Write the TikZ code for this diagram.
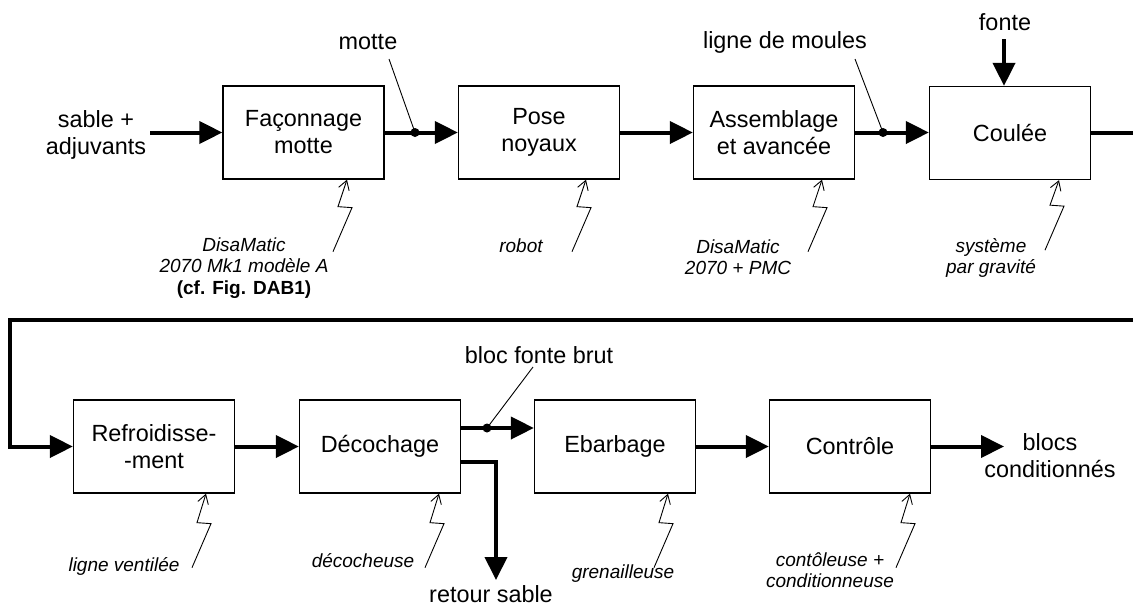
\documentclass[tikz,border=0pt]{standalone}
\usepackage{fontspec}
\setmainfont{Liberation Sans}
\usetikzlibrary{arrows.meta,calc}
\begin{document}
\begin{tikzpicture}[x=1pt,y=-1pt,
  box/.style={draw,line width=1.3pt,minimum width=161pt,minimum height=93pt,inner sep=0pt,align=center,font=\fontsize{23.4}{27}\selectfont},
  lbl/.style={align=center,font=\fontsize{23.4}{27}\selectfont,inner sep=0pt},
  note/.style={align=center,font=\fontsize{19}{21.5}\selectfont\itshape,inner sep=0pt},
  flow/.style={line width=4pt,-{Triangle[length=23pt,width=22pt]}},
  plain/.style={line width=4pt},
  leader/.style={line width=0.9pt},
  bolt/.style={line width=0.9pt,-{Straight Barb[length=9pt,width=11pt]}},
  dotc/.style={fill=black}]
\useasboundingbox (0,0) rectangle (1133,608);
% boxes
\node[box] (f1) at (303.5,132.5) {Façonnage\\motte};
\node[box] (f2) at (539,132.5) {Pose\\noyaux};
\node[box] (f3) at (774,132.5) {Assemblage\\et avancée};
\node[box] (f4) at (1010,133) {Coulée};
\node[box] (f5) at (154,446.5) {Refroidisse-\\-ment};
\node[box] (f6) at (380,446.5) {Décochage};
\node[box] (f7) at (615,446.5) {Ebarbage};
\node[box] (f8) at (850,446.5) {Contrôle};
% labels
\node[lbl] (in) at (96,135) {sable +\\adjuvants};
\node[lbl] (lmotte) at (368,42) {motte};
\node[lbl] (lmoules) at (785,42) {ligne de moules};
\node[lbl] (lfonte) at (1005,22) {fonte};
\node[lbl] (lbloc) at (539,355) {bloc fonte brut};
\node[lbl] (lout) at (1050,456) {blocs\\conditionnés};
\node[lbl] (lret) at (491,594) {retour sable};
% notes
\node[note] (n1) at (244,268) {DisaMatic\\2070 Mk1 modèle A\\{\upshape\bfseries (cf. Fig. DAB1)}};
\node[note] (n2) at (521,246) {robot};
\node[note] (n3) at (738,257) {DisaMatic\\2070 + PMC};
\node[note] (n4) at (991,258) {système\\par gravité};
\node[note] (n5) at (124,566) {ligne ventilée};
\node[note] (n6) at (363,561) {décocheuse};
\node[note] (n7) at (623,574) {grenailleuse};
\node[note] (n8) at (830,570) {contôleuse +\\conditionneuse};
% coordinates
\coordinate (cin) at (150,132.5);
\coordinate (d1) at (415,132.5);
\coordinate (d2) at (883,132.5);
\coordinate (d3) at (487,428);
\coordinate (cfonte) at (1004,39);
\coordinate (c1) at (1133,132.5);
\coordinate (c2) at (1133,320);
\coordinate (c3) at (10,320);
\coordinate (ret) at (496,580);
\coordinate (cout) at (1004,446.5);
% flows
\draw[flow] (cin) -- (f1.west);
\draw[flow] (f1.east) -- (f2.west);
\draw[flow] (f2.east) -- (f3.west);
\draw[flow] (f3.east) -- (f4.west |- f3.east);
\draw[flow] (cfonte) -- (cfonte |- f4.north);
\draw[plain] (f4.east |- c1) -- (c1);
\draw[flow] (c2) -- (c3) |- (f5.west);
\draw[flow] (f5.east) -- (f6.west);
\draw[flow] ($(f6.east)+(0,-18.5)$) -- ($(f7.west)+(0,-18.5)$);
\draw[flow] ($(f6.east)+(0,15.5)$) -| (ret);
\draw[flow] (f7.east) -- (f8.west);
\draw[flow] (f8.east) -- (cout);
% dots and leaders
\fill[dotc] (d1) circle (4.5);
\fill[dotc] (d2) circle (4.5);
\fill[dotc] (d3) circle (4.5);
\draw[leader] (389,59) -- (d1);
\draw[leader] (855,59) -- (d2);
\draw[leader] (533,367) -- (d3);
% bolts
\foreach \b/\dx/\dy in {f1/43.5/72,f2/47/72,f3/48/72,f4/49/70,f5/52/74,f6/59/74,f7/53/74,f8/60/74}{
  \draw[bolt] ($(\b.south)+(\dx,0)+(-14,\dy)$) -- ++(19,-44) -- ++(-14,-1) -- ($(\b.south)+(\dx,0)$);
}
\end{tikzpicture}
\end{document}
